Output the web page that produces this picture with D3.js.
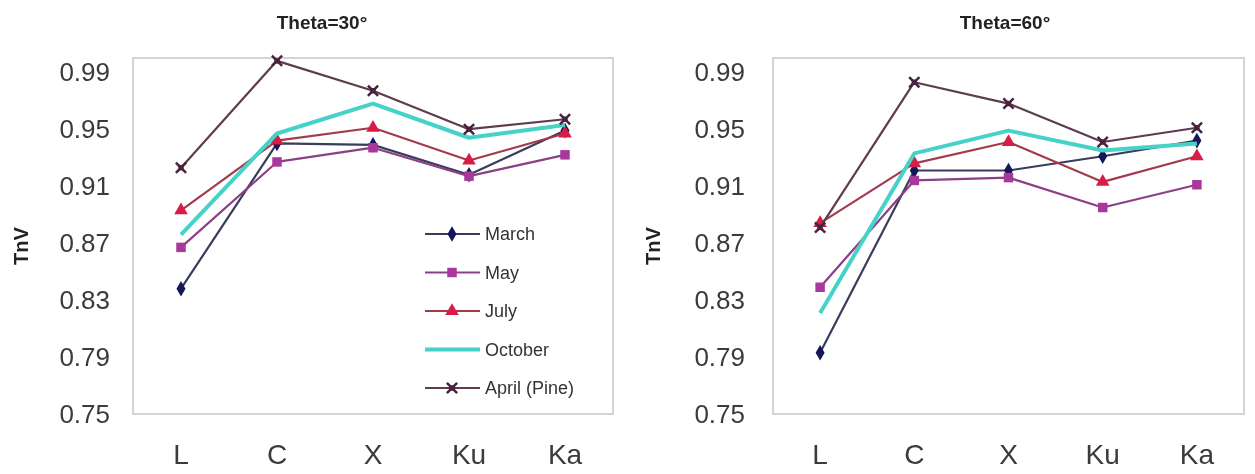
<!DOCTYPE html>
<html>
<head>
<meta charset="utf-8">
<script src="https://cdn.jsdelivr.net/npm/d3@7"></script>
<style>
  html, body { margin: 0; padding: 0; background: #fff; }
  svg { display: block; }
  text { font-family: "Liberation Sans", Arial, sans-serif; }
</style>
</head>
<body>
<svg id="chart" width="1255" height="474"></svg>
<script>
// Frequency bands on the x axis
const bands = ["L", "C", "X", "Ku", "Ka"];
// Y axis tick values
const yTicks = [0.75, 0.79, 0.83, 0.87, 0.91, 0.95, 0.99];
// Series names, in legend order
const seriesNames = ["March", "May", "July", "October", "April (Pine)"];

// Theta = 30 degrees
const march30   = [0.838, 0.940, 0.939, 0.918, 0.949];
const may30     = [0.867, 0.927, 0.937, 0.917, 0.932];
const july30    = [0.893, 0.942, 0.951, 0.928, 0.947];
const october30 = [0.876, 0.947, 0.968, 0.944, 0.953];
const april30   = [0.923, 0.998, 0.977, 0.950, 0.957];

// Theta = 60 degrees
const march60   = [0.793, 0.921, 0.921, 0.931, 0.942];
const may60     = [0.839, 0.914, 0.916, 0.895, 0.911];
const july60    = [0.884, 0.926, 0.941, 0.913, 0.931];
const october60 = [0.821, 0.933, 0.949, 0.935, 0.940];
const april60   = [0.881, 0.983, 0.968, 0.941, 0.951];

const styles = {
  "March":        { line: "#3b3b5c", fill: "#14145a", marker: "diamond",  width: 2.2 },
  "May":          { line: "#8b3f86", fill: "#a8379b", marker: "square",   width: 2.2 },
  "July":         { line: "#a23a4e", fill: "#d81e45", marker: "triangle", width: 2.2 },
  "October":      { line: "#46d2c8", fill: "#46d2c8", marker: "none",     width: 4 },
  "April (Pine)": { line: "#5e3b50", fill: "#4a2340", marker: "star",     width: 2.2 }
};

const panels = [
  { title: "Theta=30°", series: [march30, may30, july30, october30, april30],
    x0: 133, x1: 613, labelX: 110, yTitleX: 28, titleX: 322, legend: true },
  { title: "Theta=60°", series: [march60, may60, july60, october60, april60],
    x0: 773, x1: 1244, labelX: 745, yTitleX: 660, titleX: 1005, legend: false }
];

const svg = d3.select("#chart");
const defs = svg.append("defs");
defs.append("filter").attr("id", "soft")
  .append("feGaussianBlur").attr("stdDeviation", 0.5);

const yTop = 58, yBottom = 414;

function drawMarker(g, type, x, y, st) {
  if (type === "diamond") {
    g.append("path").attr("d", d3.symbol(d3.symbolDiamond, 70)())
      .attr("transform", `translate(${x},${y})`).attr("fill", st.fill);
  } else if (type === "square") {
    g.append("path").attr("d", d3.symbol(d3.symbolSquare, 90)())
      .attr("transform", `translate(${x},${y})`).attr("fill", st.fill);
  } else if (type === "triangle") {
    g.append("path").attr("d", d3.symbol(d3.symbolTriangle, 80)())
      .attr("transform", `translate(${x},${y})`).attr("fill", st.fill);
  } else if (type === "star") {
    g.append("path").attr("d", d3.symbol(d3.symbolTimes, 70)())
      .attr("transform", `translate(${x},${y})`).attr("stroke", st.fill)
      .attr("stroke-width", 2.5).attr("fill", "none");
    g.append("path").attr("d", d3.symbol(d3.symbolSquare, 30)())
      .attr("transform", `translate(${x},${y})`).attr("fill", st.fill);
  }
}

panels.forEach(p => {
  const x = d3.scaleBand().domain(bands).range([p.x0, p.x1]);
  const y = d3.scaleLinear().domain([0.75, 1.0]).range([yBottom, yTop]);
  const g = svg.append("g").attr("filter", "url(#soft)");

  // plot frame
  g.append("rect").attr("x", p.x0).attr("y", yTop)
    .attr("width", p.x1 - p.x0).attr("height", yBottom - yTop)
    .attr("fill", "#fff").attr("stroke", "#d4d4d4").attr("stroke-width", 2);

  // y axis labels
  const yAxis = d3.axisLeft(y).tickValues(yTicks).tickFormat(d3.format(".2f")).tickSize(0).tickPadding(0);
  const ya = g.append("g").attr("transform", `translate(${p.labelX},0)`).call(yAxis);
  ya.select(".domain").remove();
  ya.selectAll("text").attr("font-size", 26).attr("fill", "#3a3a3a")
    .attr("font-family", "Liberation Sans, Arial, sans-serif");

  // x axis labels
  const xAxis = d3.axisBottom(x).tickSize(0).tickPadding(0);
  const xa = g.append("g").attr("transform", `translate(0,${yBottom + 30})`).call(xAxis);
  xa.select(".domain").remove();
  xa.selectAll("text").attr("font-size", 28).attr("fill", "#3a3a3a")
    .attr("font-family", "Liberation Sans, Arial, sans-serif");

  // title
  g.append("text").attr("x", p.titleX).attr("y", 29)
    .attr("text-anchor", "middle").attr("font-size", 19).attr("font-weight", "bold")
    .attr("fill", "#222").text(p.title);

  // y title
  g.append("text").attr("transform", `translate(${p.yTitleX},246) rotate(-90)`)
    .attr("text-anchor", "middle").attr("font-size", 20).attr("font-weight", "bold")
    .attr("fill", "#222").text("TnV");

  const line = d3.line().x((d, i) => x(bands[i]) + x.bandwidth() / 2).y(d => y(d));

  p.series.forEach((vals, si) => {
    const st = styles[seriesNames[si]];
    g.append("path").datum(vals).attr("d", line).attr("fill", "none")
      .attr("stroke", st.line).attr("stroke-width", st.width).attr("stroke-linejoin", "round");
    vals.forEach((v, i) => drawMarker(g, st.marker, x(bands[i]) + x.bandwidth() / 2, y(v), st));
  });

  if (p.legend) {
    const lg = g.append("g");
    seriesNames.forEach((name, i) => {
      const st = styles[name];
      const ly = 234 + i * 38.5;
      lg.append("line").attr("x1", 425).attr("x2", 480).attr("y1", ly).attr("y2", ly)
        .attr("stroke", st.line).attr("stroke-width", st.width);
      drawMarker(lg, st.marker, 452, ly, st);
      lg.append("text").attr("x", 485).attr("y", ly).attr("dy", "0.35em")
        .attr("font-size", 18).attr("fill", "#333").text(name);
    });
  }
});
</script>
</body>
</html>
